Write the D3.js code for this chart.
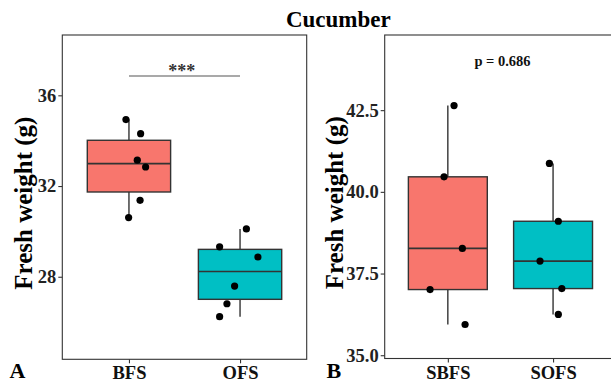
<!DOCTYPE html>
<html><head><meta charset="utf-8">
<script src="https://cdn.jsdelivr.net/npm/d3@7"></script>
<style>body{margin:0;background:#fff}svg{display:block}text{font-family:"Liberation Serif","Times New Roman",serif;font-weight:bold}</style>
</head><body>
<script>
// ---- data ----
const catsA = ["BFS", "OFS"];
const valsBFS = [34.93, 34.31, 33.14, 32.84, 31.37, 30.61];
const jitBFS  = [-0.027, 0.105, 0.075, 0.15, 0.10, -0.003];
const valsOFS = [30.11, 29.32, 28.87, 27.59, 26.81, 26.24];
const jitOFS  = [0.057, -0.184, 0.161, -0.049, -0.118, -0.184];
const ticksA = [28, 32, 36];
const sigA = "***";

const catsB = ["SBFS", "SOFS"];
const valsSBFS = [42.64, 40.46, 38.27, 37.01, 35.94];
const jitSBFS  = [0.059, -0.036, 0.138, -0.169, 0.164];
const valsSOFS = [40.87, 39.10, 37.88, 37.04, 36.25];
const jitSOFS  = [-0.035, 0.05, -0.124, 0.083, 0.05];
const ticksB = [35.0, 37.5, 40.0, 42.5];
const sigB = "p = 0.686";

const title = "Cucumber";
const colors = ["#F8766D", "#00BFC4"];

const W = 611, H = 383;
const svg = d3.select("body").append("svg").attr("width", W).attr("height", H);

svg.append("text").attr("x", 338.3).attr("y", 26.5).attr("text-anchor", "middle")
  .style("font-size", "23px").attr("fill", "#000").text(title);

function panel(o) {
  const g = svg.append("g");
  const x = d3.scalePoint().domain(o.cats).range([o.left, o.right]).padding(0.6);
  const y = d3.scaleLinear().domain(o.ydom).range([o.bottom, o.top]);
  const step = x.step();
  const bw = step * 0.75;

  // frame
  g.append("rect").attr("x", o.left).attr("y", o.top)
    .attr("width", o.right - o.left).attr("height", o.bottom - o.top)
    .attr("fill", "none").attr("stroke", "#333").attr("stroke-width", 1.1);

  // y axis
  const ax = g.append("g").attr("transform", `translate(${o.left},0)`)
    .call(d3.axisLeft(y).tickValues(o.ticks).tickFormat(o.fmt).tickSize(4).tickPadding(2));
  ax.select(".domain").remove();
  ax.selectAll(".tick line").attr("stroke", "#333").attr("stroke-width", 1.1);
  ax.selectAll(".tick text").attr("fill", "#222").style("font-size", "18.5px")
    .style("font-family", '"Liberation Serif",serif').style("font-weight", "bold");

  // x axis
  const axx = g.append("g").attr("transform", `translate(0,${o.bottom})`)
    .call(d3.axisBottom(x).tickSize(4).tickPadding(3));
  axx.select(".domain").remove();
  axx.selectAll(".tick line").attr("stroke", "#333").attr("stroke-width", 1.1);
  axx.selectAll(".tick text").attr("fill", "#111").style("font-size", "18.5px")
    .style("font-family", '"Liberation Serif",serif').style("font-weight", "bold");

  // y title
  g.append("text").attr("transform", `translate(${o.ytx},${(o.top + o.bottom) / 2 + 6}) rotate(-90)`)
    .attr("text-anchor", "middle").style("font-size", "25px").attr("fill", "#000").text("Fresh weight (g)");

  // panel tag
  g.append("text").attr("x", o.tagx).attr("y", 378.3).style("font-size", "22px").attr("fill", "#000").text(o.tag);

  o.series.forEach((vals, i) => {
    const cx = x(o.cats[i]);
    const s = vals.slice().sort(d3.ascending);
    const q1 = d3.quantile(s, 0.25), med = d3.quantile(s, 0.5), q3 = d3.quantile(s, 0.75);
    const lo = s[0], hi = s[s.length - 1];
    g.append("line").attr("x1", cx).attr("x2", cx).attr("y1", y(hi)).attr("y2", y(q3))
      .attr("stroke", "#333").attr("stroke-width", 1.4);
    g.append("line").attr("x1", cx).attr("x2", cx).attr("y1", y(q1)).attr("y2", y(lo))
      .attr("stroke", "#333").attr("stroke-width", 1.4);
    g.append("rect").attr("x", cx - bw / 2).attr("y", y(q3)).attr("width", bw).attr("height", y(q1) - y(q3))
      .attr("fill", colors[i]).attr("stroke", "#333").attr("stroke-width", 1.4);
    g.append("line").attr("x1", cx - bw / 2).attr("x2", cx + bw / 2).attr("y1", y(med)).attr("y2", y(med))
      .attr("stroke", "#333").attr("stroke-width", 1.6);
    g.selectAll(null).data(vals).enter().append("circle")
      .attr("cx", (d, j) => cx + o.jit[i][j] * step).attr("cy", d => y(d)).attr("r", 3.6).attr("fill", "#000");
  });
  return {x, y};
}

const A = panel({
  cats: catsA, series: [valsBFS, valsOFS], jit: [jitBFS, jitOFS],
  left: 62.3, right: 306.7, top: 35, bottom: 359.3, ydom: [24.36, 38.66],
  ticks: ticksA, fmt: d3.format("d"), ytx: 31.7, tag: "A", tagx: 9.5
});
// significance bracket A
const sy = A.y(36.85);
svg.append("line").attr("x1", A.x("BFS")).attr("x2", A.x("OFS")).attr("y1", sy).attr("y2", sy)
  .attr("stroke", "#555").attr("stroke-width", 1.1);
svg.append("text").attr("x", 181.7).attr("y", sy + 1)
  .attr("text-anchor", "middle").style("font-size", "18px").attr("fill", "#333").text(sigA);

const B = panel({
  cats: catsB, series: [valsSBFS, valsSOFS], jit: [jitSBFS, jitSOFS],
  left: 384.7, right: 616.2, top: 35, bottom: 358.5, ydom: [34.9, 44.8],
  ticks: ticksB, fmt: d3.format(".1f"), ytx: 343.3, tag: "B", tagx: 326.5
});
svg.append("text").attr("x", 502.5).attr("y", 65.5).attr("text-anchor", "middle")
  .style("font-size", "14.5px").attr("fill", "#111").text(sigB);
</script>
</body></html>
